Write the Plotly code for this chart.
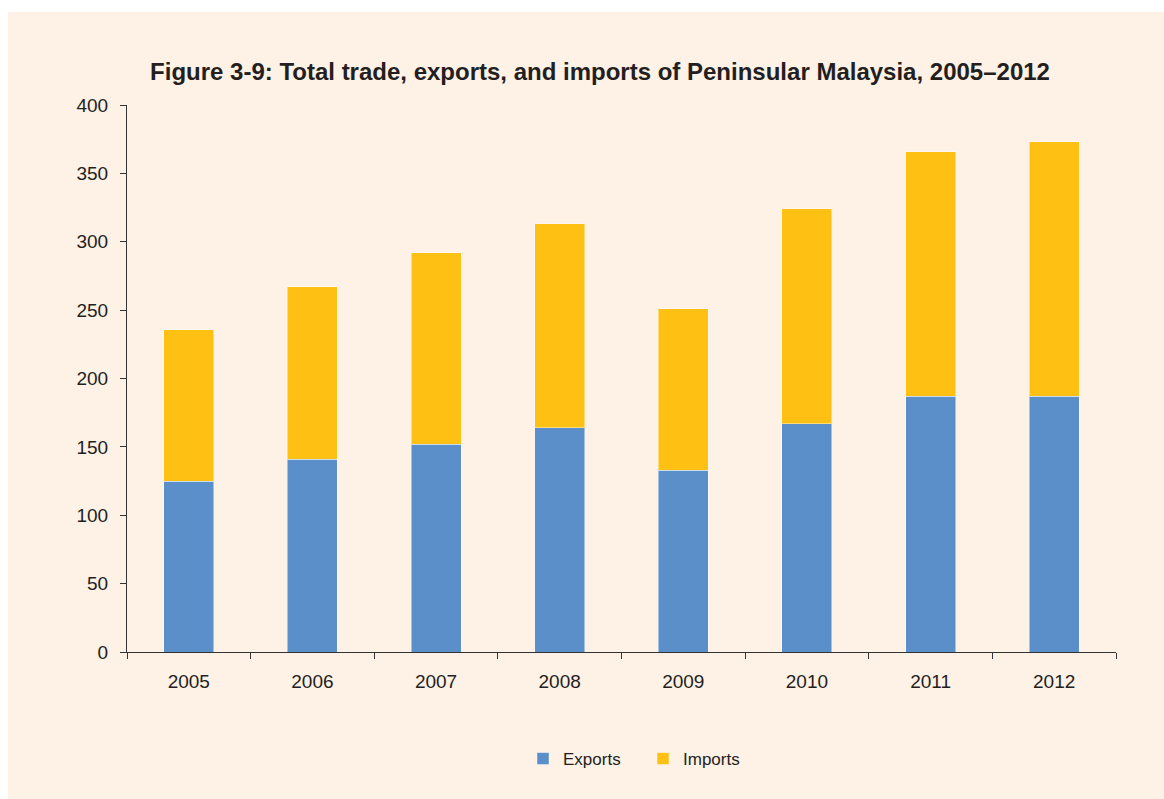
import plotly.graph_objects as go

# Peninsular Malaysia trade, 2005-2012
YEARS = ["2005", "2006", "2007", "2008", "2009", "2010", "2011", "2012"]
EXPORTS = [125, 141, 152, 164, 133, 167, 187, 187]
IMPORTS = [110.5, 126, 140, 149, 118, 157, 179, 186]

BLUE = "#5B8FC9"
GOLD = "#FDC013"
PEACH = "#FEF1E6"
TXT = "#231F20"
FONT = "Liberation Sans, Arial, sans-serif"

fig = go.Figure()
fig.add_trace(go.Bar(x=YEARS, y=EXPORTS, name="Exports", marker_color=BLUE,
                     marker_line=dict(color="rgba(255,255,255,0.45)", width=1)))
fig.add_trace(go.Bar(x=YEARS, y=IMPORTS, name="Imports", marker_color=GOLD,
                     marker_line=dict(color="rgba(255,255,255,0.45)", width=1)))

W, H = 1164, 799
L, R, T, B = 127, 48, 105, 147
pw, ph = W - L - R, H - T - B

# thin white strips along the top and left of the peach panel
fig.add_shape(type="rect", xref="paper", yref="paper", layer="below",
              x0=-L / pw, x1=(W - L) / pw, y0=(H - B - 12) / ph, y1=(H - B) / ph,
              fillcolor="white", line_width=0)
fig.add_shape(type="rect", xref="paper", yref="paper", layer="below",
              x0=-L / pw, x1=(8 - L) / pw, y0=-B / ph, y1=(H - B) / ph,
              fillcolor="white", line_width=0)

fig.update_layout(
    width=W, height=H,
    barmode="stack", bargap=0.595,
    paper_bgcolor=PEACH, plot_bgcolor="rgba(0,0,0,0)",
    margin=dict(l=L, r=R, t=T, b=B),
    font=dict(family=FONT, size=19, color=TXT),
    title=dict(text="<b>Figure 3-9: Total trade, exports, and imports of Peninsular Malaysia, 2005\u20132012</b>",
               x=600 / W, xanchor="center", xref="container",
               y=1 - 72 / H, yanchor="middle", yref="container",
               font=dict(family=FONT, size=24, color=TXT)),
    legend=dict(orientation="h", x=(643 - L) / pw, xanchor="center",
                y=(ph - (759 - T)) / ph, yanchor="middle",
                font=dict(size=17, color=TXT), bgcolor="rgba(0,0,0,0)",
                traceorder="normal", entrywidth=75),
    showlegend=True,
)
fig.update_yaxes(range=[0, 400], dtick=50, showgrid=False, zeroline=False,
                 showline=True, linecolor="#333333", linewidth=1,
                 ticks="outside", ticklen=6, tickcolor="#333333",
                 ticklabelstandoff=8)
fig.update_xaxes(showgrid=False, showline=True, linecolor="#333333", linewidth=1,
                 ticks="outside", ticklen=6, tickcolor="#333333",
                 tickson="boundaries", ticklabelstandoff=12)

fig.write_html("out.html", config={"displayModeBar": False},
               post_script="document.body.style.margin='0';document.body.style.overflow='hidden';"
                           "document.body.style.background='" + PEACH + "';")
